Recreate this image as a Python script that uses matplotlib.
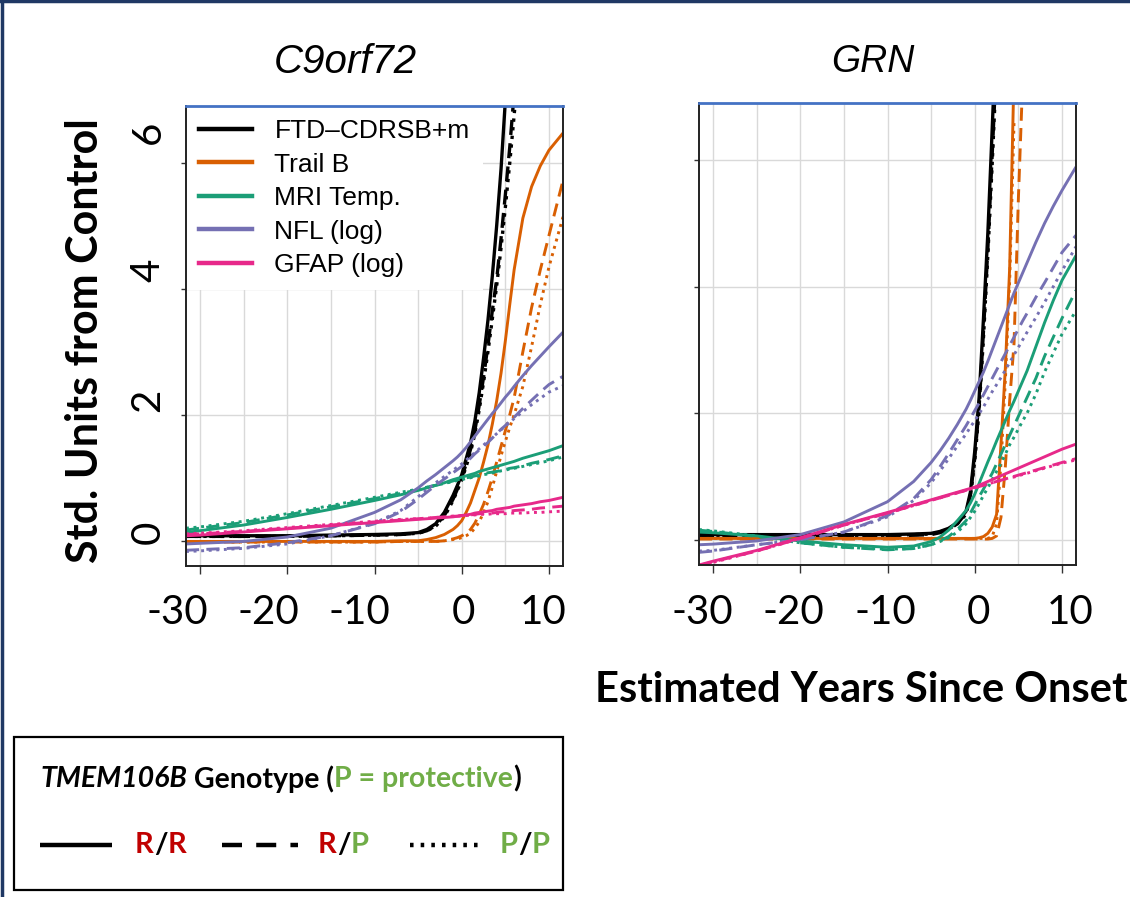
import numpy as np
import matplotlib
matplotlib.use("Agg")
import matplotlib.pyplot as plt
from matplotlib.lines import Line2D
from matplotlib.patches import Rectangle

W, H = 1130, 897

# years since onset where every curve is sampled
YEARS = [-31.6, -30, -25, -20, -15, -10, -7, -5, -4, -3, -2, -1, -0.5, 0, 0.5,
         1, 1.5, 2, 2.5, 3, 3.5, 4, 4.5, 5, 5.5, 6, 7, 8, 9, 10, 11.6]

# ---- C9orf72 carriers (None = above the top of the panel)
C9_FTD_RR = [0.08, 0.08, 0.08, 0.08, 0.09, 0.10, 0.11, 0.13, 0.18, 0.27, 0.45, 0.72, 0.88, 1.05, 1.30,
             1.55, 1.90, 2.35, 2.90, 3.50, 4.20, 5.00, 5.90, 7.00, None, None, None, None, None, None, None]
C9_FTD_RP = [0.07, 0.07, 0.07, 0.07, 0.08, 0.09, 0.10, 0.12, 0.16, 0.24, 0.40, 0.66, 0.82, 1.00, 1.22,
             1.45, 1.75, 2.15, 2.60, 3.10, 3.65, 4.15, 4.80, 5.50, 6.25, 7.10, None, None, None, None, None]
C9_FTD_PP = [0.07, 0.07, 0.07, 0.07, 0.08, 0.09, 0.10, 0.12, 0.16, 0.23, 0.38, 0.64, 0.80, 0.97, 1.18,
             1.40, 1.70, 2.08, 2.52, 3.00, 3.52, 4.05, 4.65, 5.30, 6.00, 6.75, 8.30, None, None, None, None]
C9_TRAIL_RR = [-0.01, -0.01, -0.01, -0.01, -0.01, -0.01, 0.00, 0.00, 0.02, 0.05, 0.10, 0.18, 0.24, 0.32, 0.45,
               0.60, 0.80, 1.00, 1.25, 1.52, 1.85, 2.22, 2.66, 3.18, 3.75, 4.30, 5.12, 5.62, 5.95, 6.20, 6.47]
C9_TRAIL_RP = [-0.02, -0.02, -0.02, -0.02, -0.02, -0.02, -0.01, -0.01, -0.01, -0.01, 0.00, 0.03, 0.05, 0.08, 0.12,
               0.18, 0.28, 0.42, 0.58, 0.78, 1.00, 1.25, 1.50, 1.75, 2.00, 2.27, 3.00, 3.70, 4.30, 4.85, 5.72]
C9_TRAIL_PP = [-0.02, -0.02, -0.02, -0.02, -0.02, -0.02, -0.01, -0.01, -0.01, -0.01, 0.00, 0.02, 0.03, 0.05, 0.08,
               0.12, 0.20, 0.30, 0.45, 0.62, 0.85, 1.10, 1.35, 1.58, 1.80, 2.00, 2.45, 3.08, 3.75, 4.35, 5.14]
C9_MRI_RR = [0.13, 0.16, 0.25, 0.37, 0.50, 0.64, 0.73, 0.80, 0.84, 0.88, 0.92, 0.97, 0.99, 1.01, 1.03,
             1.05, 1.07, 1.10, 1.12, 1.14, 1.16, 1.18, 1.20, 1.22, 1.24, 1.26, 1.31, 1.35, 1.39, 1.43, 1.51]
C9_MRI_RP = [0.17, 0.20, 0.29, 0.41, 0.54, 0.67, 0.75, 0.81, 0.85, 0.88, 0.91, 0.95, 0.97, 0.98, 1.00,
             1.01, 1.03, 1.04, 1.06, 1.08, 1.09, 1.10, 1.12, 1.13, 1.15, 1.16, 1.19, 1.23, 1.26, 1.29, 1.35]
C9_MRI_PP = [0.20, 0.22, 0.31, 0.43, 0.56, 0.69, 0.77, 0.82, 0.85, 0.88, 0.91, 0.94, 0.96, 0.97, 0.99,
             1.00, 1.02, 1.03, 1.05, 1.06, 1.08, 1.09, 1.11, 1.12, 1.14, 1.15, 1.18, 1.21, 1.24, 1.27, 1.33]
C9_NFL_RR = [-0.05, -0.04, -0.01, 0.06, 0.20, 0.45, 0.65, 0.84, 0.95, 1.05, 1.16, 1.27, 1.33, 1.40, 1.48,
             1.57, 1.66, 1.75, 1.84, 1.93, 2.02, 2.10, 2.19, 2.28, 2.36, 2.45, 2.62, 2.78, 2.93, 3.08, 3.31]
C9_NFL_RP = [-0.15, -0.14, -0.11, -0.03, 0.08, 0.27, 0.46, 0.66, 0.77, 0.88, 0.98, 1.08, 1.13, 1.18, 1.25,
             1.31, 1.38, 1.44, 1.50, 1.56, 1.63, 1.70, 1.77, 1.83, 1.90, 1.96, 2.10, 2.23, 2.36, 2.48, 2.61]
C9_NFL_PP = [-0.17, -0.16, -0.12, -0.05, 0.08, 0.28, 0.48, 0.70, 0.81, 0.92, 1.02, 1.12, 1.17, 1.22, 1.28,
             1.34, 1.40, 1.46, 1.52, 1.58, 1.64, 1.70, 1.76, 1.82, 1.88, 1.94, 2.05, 2.16, 2.26, 2.36, 2.46]
C9_GFAP_RR = [0.08, 0.09, 0.14, 0.19, 0.24, 0.29, 0.32, 0.34, 0.35, 0.36, 0.37, 0.38, 0.39, 0.40, 0.41,
              0.42, 0.44, 0.45, 0.46, 0.47, 0.48, 0.50, 0.51, 0.52, 0.53, 0.55, 0.57, 0.59, 0.62, 0.64, 0.69]
C9_GFAP_RP = [0.10, 0.11, 0.15, 0.20, 0.25, 0.30, 0.33, 0.35, 0.36, 0.37, 0.38, 0.39, 0.39, 0.40, 0.41,
              0.41, 0.42, 0.43, 0.43, 0.44, 0.44, 0.45, 0.46, 0.46, 0.47, 0.48, 0.49, 0.50, 0.52, 0.53, 0.55]
C9_GFAP_PP = [0.11, 0.12, 0.16, 0.21, 0.26, 0.31, 0.34, 0.35, 0.36, 0.37, 0.38, 0.39, 0.39, 0.40, 0.40,
              0.41, 0.41, 0.42, 0.42, 0.42, 0.43, 0.43, 0.43, 0.43, 0.44, 0.44, 0.44, 0.45, 0.45, 0.46, 0.47]

# ---- GRN carriers
GRN_FTD_RR = [0.08, 0.08, 0.08, 0.08, 0.08, 0.08, 0.09, 0.10, 0.13, 0.18, 0.27, 0.45, 0.75, 1.40, 2.25,
              3.50, 4.85, 6.50, 8.20, None, None, None, None, None, None, None, None, None, None, None, None]
GRN_FTD_RP = [0.06, 0.06, 0.06, 0.06, 0.06, 0.06, 0.07, 0.08, 0.11, 0.16, 0.25, 0.42, 0.70, 1.30, 2.10,
              3.30, 4.60, 6.10, 7.60, None, None, None, None, None, None, None, None, None, None, None, None]
GRN_FTD_PP = [0.07, 0.07, 0.07, 0.07, 0.07, 0.07, 0.08, 0.09, 0.12, 0.17, 0.25, 0.40, 0.68, 1.25, 2.05,
              3.20, 4.50, 5.95, 7.50, None, None, None, None, None, None, None, None, None, None, None, None]
GRN_TRAIL_RR = [0.02, 0.02, 0.02, 0.02, 0.02, 0.02, 0.02, 0.02, 0.02, 0.02, 0.02, 0.02, 0.02, 0.02, 0.03,
                0.05, 0.10, 0.20, 0.40, 1.50, 2.70, 4.30, 7.40, None, None, None, None, None, None, None, None]
GRN_TRAIL_RP = [0.01, 0.01, 0.01, 0.01, 0.01, 0.01, 0.01, 0.01, 0.01, 0.01, 0.01, 0.01, 0.01, 0.01, 0.01,
                0.01, 0.01, 0.02, 0.06, 0.35, 1.15, 2.20, 3.10, 5.40, 7.30, None, None, None, None, None, None]
GRN_TRAIL_PP = [0.02, 0.02, 0.02, 0.02, 0.02, 0.02, 0.02, 0.02, 0.02, 0.02, 0.02, 0.02, 0.02, 0.02, 0.02,
                0.02, 0.02, 0.05, 0.25, 1.20, 2.50, 4.10, 6.60, None, None, None, None, None, None, None, None]
GRN_MRI_RR = [0.12, 0.11, 0.06, -0.02, -0.08, -0.12, -0.10, -0.03, 0.04, 0.15, 0.30, 0.46, 0.58, 0.72, 0.89,
              1.06, 1.23, 1.39, 1.56, 1.72, 1.88, 2.04, 2.19, 2.35, 2.51, 2.67, 3.05, 3.43, 3.78, 4.10, 4.49]
GRN_MRI_RP = [0.15, 0.13, 0.05, -0.05, -0.12, -0.16, -0.14, -0.08, -0.02, 0.05, 0.16, 0.30, 0.42, 0.55, 0.68,
              0.80, 0.93, 1.05, 1.20, 1.35, 1.50, 1.65, 1.80, 1.95, 2.10, 2.25, 2.55, 2.90, 3.20, 3.50, 3.94]
GRN_MRI_PP = [0.16, 0.14, 0.06, -0.05, -0.12, -0.15, -0.14, -0.08, -0.03, 0.03, 0.12, 0.25, 0.35, 0.45, 0.57,
              0.70, 0.82, 0.95, 1.08, 1.20, 1.35, 1.50, 1.62, 1.75, 1.88, 2.00, 2.30, 2.65, 2.95, 3.25, 3.62]
GRN_NFL_RR = [-0.08, -0.07, -0.02, 0.08, 0.28, 0.60, 0.92, 1.22, 1.40, 1.60, 1.82, 2.06, 2.20, 2.35, 2.50,
              2.65, 2.82, 3.00, 3.18, 3.36, 3.54, 3.72, 3.90, 4.06, 4.22, 4.38, 4.70, 5.00, 5.27, 5.52, 5.89]
GRN_NFL_RP = [-0.20, -0.18, -0.08, 0.00, 0.12, 0.38, 0.65, 0.95, 1.15, 1.36, 1.58, 1.80, 1.92, 2.04, 2.16,
              2.29, 2.42, 2.55, 2.68, 2.81, 2.94, 3.07, 3.20, 3.33, 3.46, 3.58, 3.83, 4.06, 4.30, 4.54, 4.81]
GRN_NFL_PP = [-0.18, -0.17, -0.08, 0.00, 0.12, 0.36, 0.62, 0.90, 1.08, 1.28, 1.48, 1.67, 1.78, 1.88, 1.99,
              2.10, 2.22, 2.34, 2.45, 2.56, 2.68, 2.80, 2.92, 3.04, 3.16, 3.28, 3.51, 3.75, 4.00, 4.25, 4.63]
GRN_GFAP_RR = [-0.40, -0.34, -0.17, 0.03, 0.24, 0.43, 0.55, 0.63, 0.67, 0.71, 0.75, 0.79, 0.81, 0.83, 0.86,
               0.89, 0.92, 0.95, 0.98, 1.01, 1.04, 1.07, 1.10, 1.13, 1.16, 1.19, 1.25, 1.31, 1.37, 1.43, 1.51]
GRN_GFAP_RP = [-0.41, -0.35, -0.18, 0.02, 0.23, 0.42, 0.54, 0.62, 0.66, 0.70, 0.74, 0.78, 0.80, 0.82, 0.84,
               0.86, 0.88, 0.90, 0.92, 0.94, 0.96, 0.98, 1.00, 1.02, 1.04, 1.06, 1.10, 1.14, 1.18, 1.22, 1.28]
GRN_GFAP_PP = [-0.42, -0.36, -0.18, 0.02, 0.23, 0.42, 0.54, 0.62, 0.66, 0.70, 0.74, 0.78, 0.80, 0.82, 0.84,
               0.86, 0.88, 0.90, 0.92, 0.94, 0.96, 0.98, 0.99, 1.01, 1.03, 1.05, 1.09, 1.13, 1.17, 1.21, 1.26]

MEASURES = ["FTD\u2013CDRSB+m", "Trail B", "MRI Temp.", "NFL (log)", "GFAP (log)"]
COLORS = ["#000000", "#D95F02", "#1B9E77", "#7570B3", "#E7298A"]
GENOTYPES = ["R/R", "R/P", "P/P"]
STYLES = ["-", (0, (4.5, 2.5)), (0, (1, 1.6))]

C9_SERIES = [[C9_FTD_RR, C9_FTD_RP, C9_FTD_PP],
             [C9_TRAIL_RR, C9_TRAIL_RP, C9_TRAIL_PP],
             [C9_MRI_RR, C9_MRI_RP, C9_MRI_PP],
             [C9_NFL_RR, C9_NFL_RP, C9_NFL_PP],
             [C9_GFAP_RR, C9_GFAP_RP, C9_GFAP_PP]]
GRN_SERIES = [[GRN_FTD_RR, GRN_FTD_RP, GRN_FTD_PP],
              [GRN_TRAIL_RR, GRN_TRAIL_RP, GRN_TRAIL_PP],
              [GRN_MRI_RR, GRN_MRI_RP, GRN_MRI_PP],
              [GRN_NFL_RR, GRN_NFL_RP, GRN_NFL_PP],
              [GRN_GFAP_RR, GRN_GFAP_RP, GRN_GFAP_PP]]

X_TICKS = [-30, -20, -10, 0, 10]
Y_TICKS = [0, 2, 4, 6]

CALIBRI = "Lato"
R_FONT = "Liberation Sans"
RED, GREEN = "#C00000", "#70AD47"


def fx(px):
    return px / W


def fy(py):
    return 1 - py / H


def panel(box, series, title, title_x, title_size):
    left, top, right, bottom = box
    ax = fig.add_axes([fx(left), fy(bottom), (right - left) / W, (bottom - top) / H])
    x = np.array(YEARS)
    for color, curves in zip(COLORS, series):
        lw = 2.4 if color == "#000000" else 2.1
        for vals, ls in zip(curves, STYLES):
            y = np.array(vals, dtype=float)
            ax.plot(x, y, color=color, lw=lw, ls=ls, solid_capstyle="butt",
                    solid_joinstyle="round")
    ax.set_xlim(-31.6, 11.6)
    ax.set_ylim(-0.4, 6.9)
    ax.set_xticks(X_TICKS)
    ax.set_xticks([-25, -15, -5, 5], minor=True)
    ax.set_yticks(Y_TICKS)
    ax.set_xticklabels([])
    ax.set_yticklabels([])
    ax.tick_params(axis="x", which="major", length=6, width=1, color="#333333")
    ax.tick_params(axis="x", which="minor", length=0)
    ax.tick_params(axis="y", length=3.5, width=1, color="#333333")
    ax.grid(True, which="both", color="#D9D9D9", lw=1)
    ax.set_axisbelow(True)
    for side in ["left", "right", "bottom"]:
        ax.spines[side].set_color("#222222")
        ax.spines[side].set_linewidth(1.4)
    ax.spines["top"].set_color("#4472C4")
    ax.spines["top"].set_linewidth(2)
    for sp in ax.spines.values():
        sp.set_zorder(10)
    fig.text(fx(title_x), fy(62), title, fontsize=title_size, style="italic",
             family=R_FONT, ha="center", va="center")
    return ax


fig = plt.figure(figsize=(W / 100, H / 100), dpi=100)

ax1 = panel((186, 106, 563, 566), C9_SERIES, "C9orf72", 345, 29)
ax2 = panel((699, 103, 1076, 565), GRN_SERIES, "GRN", 873, 27)

# measure legend in the C9orf72 panel
handles = [Line2D([], [], color=c, lw=3.2) for c in COLORS]
leg = ax1.legend(handles, MEASURES, loc="upper left", bbox_to_anchor=(0, 1),
                 borderaxespad=0, borderpad=0.5, frameon=True, fancybox=False,
                 facecolor="white", edgecolor="none", framealpha=1,
                 handlelength=2.0, handletextpad=0.85, labelspacing=0.36,
                 prop={"family": R_FONT, "size": 19})
leg.set_zorder(5)

# tick labels sit as free text under / beside each panel
for px, lab in zip([177, 268, 359, 463, 543], X_TICKS):
    fig.text(fx(px), fy(613), str(lab), fontsize=29, family=CALIBRI, ha="center", va="center")
for px, lab in zip([702, 793, 885, 978, 1070], X_TICKS):
    fig.text(fx(px), fy(613), str(lab), fontsize=29, family=CALIBRI, ha="center", va="center")
for py, lab in zip([532, 400, 270, 132], Y_TICKS):
    fig.text(fx(148), fy(py), str(lab), fontsize=29, family=CALIBRI, rotation=90,
             ha="center", va="center")

fig.text(fx(85), fy(341), "Std. Units from Control", fontsize=31, family=CALIBRI,
         weight="bold", rotation=90, ha="center", va="center")
fig.text(fx(861), fy(690), "Estimated Years Since Onset", fontsize=30, family=CALIBRI,
         weight="bold", ha="center", va="center")

# genotype key box
fig.add_artist(Rectangle((fx(14), fy(890)), (563 - 14) / W, (890 - 737) / H,
                         transform=fig.transFigure, fill=False, ec="black", lw=1.6))

renderer = fig.canvas.get_renderer()


def runs(px, py, parts, size=20.5):
    x = fx(px)
    for txt, color, style in parts:
        t = fig.text(x, fy(py), txt, color=color, fontsize=size, family=CALIBRI,
                     weight="bold", style=style, ha="left", va="center")
        bb = t.get_window_extent(renderer)
        x += bb.width / W


runs(40, 779, [("TMEM106B", "black", "italic"), (" Genotype (", "black", "normal"),
               ("P = protective", GREEN, "normal"), (")", "black", "normal")])

key_styles = ["-", (0, (4.5, 3.2)), (0, (0.8, 1.6))]
key_lines = [(40, 112), (222, 298), (410, 482)]
key_text_x = [135, 318, 500]
for (x0, x1), ls, tx, gt in zip(key_lines, key_styles, key_text_x, GENOTYPES):
    fig.add_artist(Line2D([fx(x0), fx(x1)], [fy(845), fy(845)], color="black",
                          lw=3.2, ls=ls, transform=fig.transFigure, solid_capstyle="butt"))
    a, b = gt.split("/")
    runs(tx, 845, [(a, RED if a == "R" else GREEN, "normal"), ("/", "black", "normal"),
                   (b, RED if b == "R" else GREEN, "normal")], size=21)

# slide frame edges
fig.add_artist(Line2D([0.0015, 0.0015], [0, 1], color="#1F3864", lw=2.5, transform=fig.transFigure))
fig.add_artist(Line2D([0, 1], [0.9985, 0.9985], color="#1F3864", lw=2.5, transform=fig.transFigure))

fig.savefig("out.png", dpi=100)
